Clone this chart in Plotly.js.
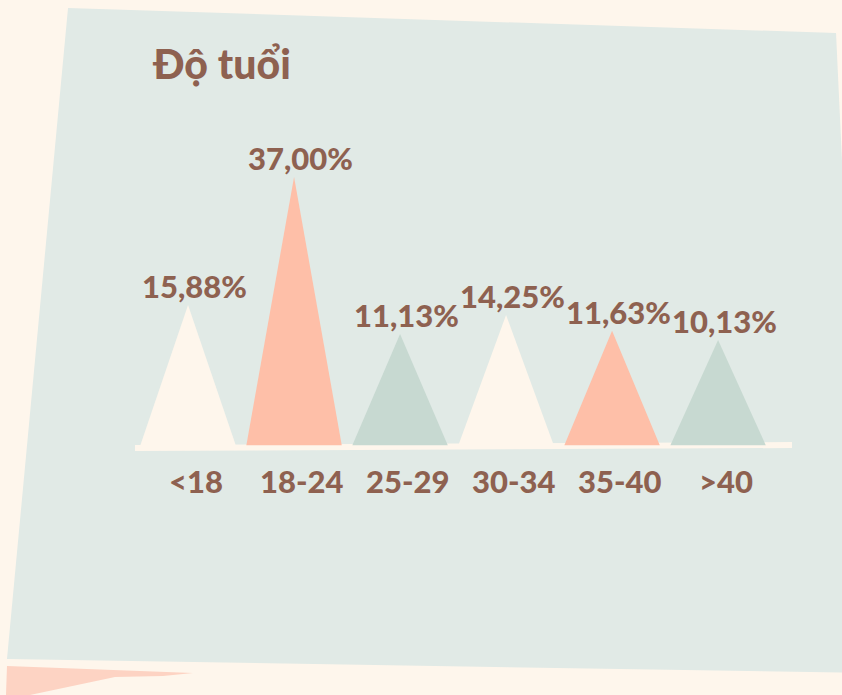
<!DOCTYPE html>
<html>
<head>
<meta charset="utf-8">
<script src="https://cdn.plot.ly/plotly-3.0.1.min.js"></script>
<style>html,body{margin:0;padding:0;background:#FEF6EC;}#chart{width:842px;height:695px;}</style>
</head>
<body>
<div id="chart"></div>
<script>
// ---- data ----
const categories = ["<18", "18-24", "25-29", "30-34", "35-40", ">40"];
const values = [15.88, 37.00, 11.13, 14.25, 11.63, 10.13];
const valueLabels = ["15,88%", "37,00%", "11,13%", "14,25%", "11,63%", "10,13%"];
const titleText = "Độ tuổi";

// ---- styling ----
const W = 842, H = 695;
const textColor = "#8E6150";
const palette = ["#FEF6EC", "#FEBFA8", "#C7D9D1"];
const baseVal = -7.2;     // value where triangle bases sit
const halfW = 0.45;
const font = "Lato, 'Open Sans', sans-serif";

function px(x, y) { return [x / W, 1 - y / H]; }
function pathFrom(pts) {
  return pts.map((p, i) => { const q = px(p[0], p[1]); return (i ? "L" : "M") + q[0].toFixed(4) + "," + q[1].toFixed(4); }).join(" ") + " Z";
}

const traces = categories.map((c, i) => ({
  type: "scatter",
  mode: "lines",
  x: [i - halfW, i, i + halfW, i - halfW],
  y: [baseVal, values[i], baseVal, baseVal],
  fill: "toself",
  fillcolor: palette[i % 3],
  line: { width: 0, color: palette[i % 3] },
  hoverinfo: "skip",
  showlegend: false
}));

const annotations = [];
categories.forEach((c, i) => {
  annotations.push({
    x: i, y: values[i], xref: "x", yref: "y",
    text: valueLabels[i], showarrow: false,
    yanchor: "bottom", yshift: -2, xshift: 6,
    font: { family: font, size: 31, weight: 900, color: textColor }
  });
  annotations.push({
    x: i, y: px(0, 481)[1], xref: "x", yref: "paper",
    text: c, showarrow: false,
    yanchor: "middle", xshift: 8,
    font: { family: font, size: 31, weight: 900, color: textColor }
  });
});
annotations.push({
  x: px(150, 0)[0], y: px(0, 64)[1], xref: "paper", yref: "paper",
  xanchor: "left", yanchor: "middle", showarrow: false,
  text: titleText,
  font: { family: font, size: 41, weight: 900, color: textColor }
});

const shapes = [
  { type: "path", xref: "paper", yref: "paper", layer: "below",
    path: pathFrom([[68, 8], [836, 33], [866, 673], [7, 659]]),
    fillcolor: "#E1EAE6", line: { width: 0 } },
  { type: "path", xref: "paper", yref: "paper", layer: "below",
    path: pathFrom([[7, 666], [193, 673], [163, 676], [115, 677], [30, 695], [6, 695]]),
    fillcolor: "#FDD3C3", line: { width: 0 } },
  { type: "path", xref: "paper", yref: "paper", layer: "below",
    path: pathFrom([[135, 445], [792, 442], [792, 448], [135, 451]]),
    fillcolor: "#FEF6EC", line: { width: 0 } }
];

const layout = {
  width: W, height: H,
  margin: { l: 0, r: 0, t: 0, b: 0 },
  paper_bgcolor: "#FEF6EC",
  plot_bgcolor: "rgba(0,0,0,0)",
  xaxis: { range: [-1.774, 6.169], showgrid: false, zeroline: false, showticklabels: false, showline: false, fixedrange: true },
  yaxis: { range: [-48.36, 66.14], showgrid: false, zeroline: false, showticklabels: false, showline: false, fixedrange: true },
  shapes: shapes,
  annotations: annotations,
  showlegend: false
};

Plotly.newPlot("chart", traces, layout, { displayModeBar: false, staticPlot: true });
</script>
</body>
</html>
